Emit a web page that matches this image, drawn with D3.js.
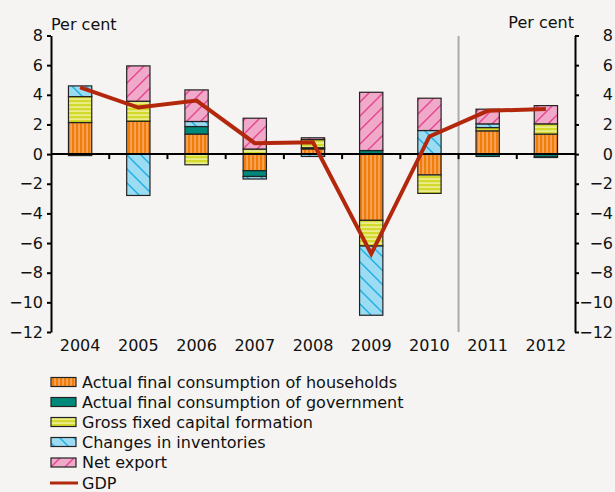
<!DOCTYPE html>
<html>
<head>
<meta charset="utf-8">
<script src="https://cdn.jsdelivr.net/npm/d3@7"></script>
<style>
  body { margin: 0; background: #f5f4f2; }
  text { font-family: "DejaVu Sans", sans-serif; font-size: 16px; fill: #111; }
</style>
</head>
<body>
<div id="chart"></div>
<script>
var years = ["2004", "2005", "2006", "2007", "2008", "2009", "2010", "2011", "2012"];
var households = [2.13, 2.22, 1.35, -1.12, 0.35, -4.47, -1.41, 1.57, 1.35];
var government = [-0.1, 0, 0.51, -0.39, 0.08, 0.24, 0, -0.16, -0.2];
var capital = [1.75, 1.35, -0.72, 0.34, 0.55, -1.73, -1.24, 0.22, 0.69];
var inventories = [0.72, -2.79, 0.34, -0.17, -0.16, -4.67, 1.59, 0.25, -0.03];
var netExport = [0, 2.38, 2.13, 2.08, 0.12, 3.93, 2.18, 0.99, 1.23];
var gdp = [4.5, 3.14, 3.61, 0.74, 0.8, -6.73, 1.19, 2.92, 3.05];
var yTicks = [-12, -10, -8, -6, -4, -2, 0, 2, 4, 6, 8];

var seriesNames = ["Actual final consumption of households", "Actual final consumption of government",
    "Gross fixed capital formation", "Changes in inventories", "Net export"];
var seriesData = [households, government, capital, inventories, netExport];
var fills = ["url(#pOrange)", "#00897a", "url(#pYellow)", "url(#pBlue)", "url(#pPink)"];

var w = 615, h = 492;
var svg = d3.select("#chart").append("svg").attr("width", w).attr("height", h);

// patterns
var defs = svg.append("defs");
var p = defs.append("pattern").attr("id", "pOrange").attr("patternUnits", "userSpaceOnUse").attr("width", 4).attr("height", 4);
p.append("rect").attr("width", 4).attr("height", 4).attr("fill", "#f07d0a");
p.append("rect").attr("x", 2.4).attr("width", 1.3).attr("height", 4).attr("fill", "#f9b47c");
p = defs.append("pattern").attr("id", "pYellow").attr("patternUnits", "userSpaceOnUse").attr("width", 4).attr("height", 4);
p.append("rect").attr("width", 4).attr("height", 4).attr("fill", "#d3da2c");
p.append("rect").attr("y", 2.4).attr("width", 4).attr("height", 1.4).attr("fill", "#f1f2a4");
p = defs.append("pattern").attr("id", "pBlue").attr("patternUnits", "userSpaceOnUse").attr("width", 14).attr("height", 14);
p.append("rect").attr("width", 14).attr("height", 14).attr("fill", "#9cdcf2");
p.append("path").attr("d", "M-2,-2L16,16M-2,12L2,16M12,-2L16,2").attr("stroke", "#1eaee6").attr("stroke-width", 1.4);
p = defs.append("pattern").attr("id", "pPink").attr("patternUnits", "userSpaceOnUse").attr("width", 14).attr("height", 14);
p.append("rect").attr("width", 14).attr("height", 14).attr("fill", "#f0a9c9");
p.append("path").attr("d", "M-2,16L16,-2M-2,2L2,-2M12,16L16,12").attr("stroke", "#e6438e").attr("stroke-width", 1.4);

var x = d3.scaleBand().domain(years).range([51, 575]).paddingInner(0.6).paddingOuter(0.3);
var y = d3.scaleLinear().domain([-12, 8]).range([332, 35.5]);
var gap = (x.step() - x.bandwidth()) / 2;

// stacked bars
var rows = years.map(function (yr, i) {
    var r = { year: yr };
    seriesData.forEach(function (s, k) { r[k] = s[i]; });
    return r;
});
var stack = d3.stack().keys([0, 1, 2, 3, 4]).offset(d3.stackOffsetDiverging);
var layers = stack(rows);

svg.selectAll(".layer").data(layers).enter().append("g").attr("class", "layer")
    .attr("fill", function (d, i) { return fills[i]; })
    .selectAll("rect").data(function (d) { return d; }).enter().append("rect")
    .attr("x", function (d) { return x(d.data.year); })
    .attr("width", x.bandwidth())
    .attr("y", function (d) { return y(Math.max(d[0], d[1])); })
    .attr("height", function (d) { return Math.abs(y(d[0]) - y(d[1])); })
    .attr("stroke", "#222").attr("stroke-width", 1.2);

// divider between actuals and forecast
var xDiv = x("2011") - gap;
svg.append("line").attr("x1", xDiv).attr("x2", xDiv).attr("y1", 36).attr("y2", 332)
    .attr("stroke", "#aaa").attr("stroke-width", 2);

// zero line with ticks at category boundaries
svg.append("line").attr("x1", 51).attr("x2", 575).attr("y1", y(0)).attr("y2", y(0))
    .attr("stroke", "#000").attr("stroke-width", 2);
svg.selectAll(".xtick").data(years.slice(1)).enter().append("line").attr("class", "xtick")
    .attr("x1", function (d) { return x(d) - gap; }).attr("x2", function (d) { return x(d) - gap; })
    .attr("y1", y(0)).attr("y2", y(0) + 5).attr("stroke", "#000").attr("stroke-width", 2);

// y axes
var left = svg.append("g").attr("transform", "translate(51,0)")
    .call(d3.axisLeft(y).tickValues(yTicks).tickSize(4).tickSizeOuter(0).tickPadding(4));
var right = svg.append("g").attr("transform", "translate(575,0)")
    .call(d3.axisRight(y).tickValues(yTicks).tickSize(4).tickSizeOuter(0));
right.selectAll("text").attr("text-anchor", "end").attr("x", 38);
svg.selectAll(".domain").attr("stroke", "#000").attr("stroke-width", 2);
svg.selectAll(".tick line").attr("stroke", "#000").attr("stroke-width", 2);
svg.selectAll(".tick text").style("font-size", "16px").style("font-family", "DejaVu Sans").attr("fill", "#111");

// year labels
var xa = svg.append("g").attr("transform", "translate(0,332)")
    .call(d3.axisBottom(x).tickSize(0).tickPadding(8));
xa.select(".domain").remove();
xa.selectAll("text").style("font-size", "16px").style("font-family", "DejaVu Sans").attr("fill", "#111");

svg.append("text").attr("x", 51).attr("y", 30).text("Per cent");
svg.append("text").attr("x", 574).attr("y", 28).attr("text-anchor", "end").text("Per cent");

// GDP line
var line = d3.line()
    .x(function (d, i) { return x(years[i]) + x.bandwidth() / 2; })
    .y(function (d) { return y(d); });
svg.append("path").datum(gdp).attr("d", line).attr("fill", "none")
    .attr("stroke", "#b3280c").attr("stroke-width", 4);

// legend
var lg = svg.append("g");
var rowY = [382, 402, 422, 442, 462.5];
seriesNames.forEach(function (name, i) {
    lg.append("rect").attr("x", 51).attr("y", rowY[i] - 4.5).attr("width", 25).attr("height", 9)
        .attr("fill", fills[i]).attr("stroke", "#222").attr("stroke-width", 1.2);
    lg.append("text").attr("x", 82).attr("y", rowY[i]).attr("dy", "0.35em").text(name);
});
lg.append("line").attr("x1", 50).attr("x2", 78).attr("y1", 483).attr("y2", 483)
    .attr("stroke", "#b3280c").attr("stroke-width", 3);
lg.append("text").attr("x", 82).attr("y", 483).attr("dy", "0.35em").text("GDP");
</script>
</body>
</html>
